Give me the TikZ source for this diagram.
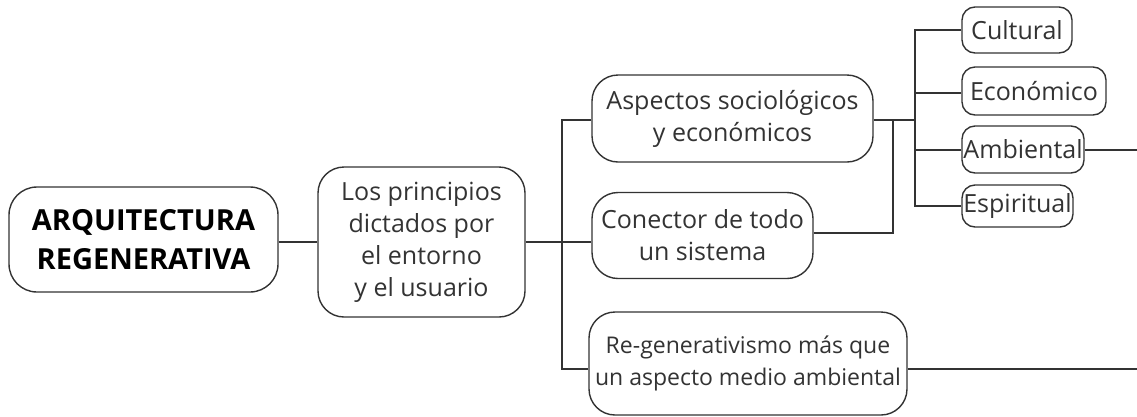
\documentclass[tikz,border=0pt]{standalone}
\usepackage{fontspec}
\setmainfont{Open Sans}
\usepackage{xcolor}
\usetikzlibrary{positioning}
\definecolor{ink}{HTML}{333333}

\begin{document}
\begin{tikzpicture}[x=1pt, y=-1pt,
      box/.style={draw=ink, line width=1.4pt, fill=white, rounded corners=26pt,
                  align=center, text=ink, inner sep=0pt,
                  font=\fontsize{25}{32}\selectfont},
      leaf/.style={box, rounded corners=13pt},
      link/.style={draw=ink, line width=1.4pt}
    ]
      \useasboundingbox (0,0) rectangle (1137,416);
      \node[box, minimum width=269pt, minimum height=105pt, rounded corners=28pt,
            font=\fontsize{29}{39}\selectfont\bfseries, text=black] (root) at (143.5,239.5)
            {ARQUITECTURA\\REGENERATIVA};
      \node[box, minimum width=207pt, minimum height=150pt] (prin) at (421.5,242)
            {Los principios\\dictados por\\el entorno\\y el usuario};
      \node[box, minimum width=281pt, minimum height=87pt] (asp) at (732.5,118.5)
            {Aspectos sociológicos\\y económicos};
      \node[box, minimum width=221pt, minimum height=86pt] (con) at (702.5,235.5)
            {Conector de todo\\un sistema};
      \node[box, minimum width=318pt, minimum height=103pt,
            font=\fontsize{23}{32}\selectfont] (regen) at (748,363.5)
            {Re-generativismo más que\\un aspecto medio ambiental};
      \node[leaf, minimum width=110pt, minimum height=46pt] (cult) at (1017,30) {Cultural};
      \node[leaf, minimum width=144pt, minimum height=48pt] (econ) at (1034,91) {Económico};
      \node[leaf, minimum width=122pt, minimum height=47pt] (amb) at (1023,149.5) {Ambiental};
      \node[leaf, minimum width=111pt, minimum height=42pt] (esp) at (1017.5,206) {Espiritual};
      \coordinate (trunk) at (562,242);
      \coordinate (join) at (893,120);
      \coordinate (fork) at (915,120);
      \coordinate (ambend) at (1137,150);
      \coordinate (regenend) at (1137,369);
      \draw[link] (root.east |- trunk) -- (prin.west |- trunk);
      \draw[link] (prin.east |- trunk) -- (con.west |- trunk);
      \draw[link] (asp.west |- join) -| (trunk) |- (regen.west |- regenend);
      \draw[link] (asp.east |- join) -- (fork);
      \draw[link] (con.east |- 0,233) -| (join);
      \draw[link] (cult.west) -| (fork) |- (esp.west);
      \draw[link] (econ.west |- 0,93) -- (fork |- 0,93);
      \draw[link] (amb.west |- ambend) -- (fork |- ambend);
      \draw[link] (amb.east |- ambend) -- (ambend);
      \draw[link] (regen.east |- regenend) -- (regenend);
    \end{tikzpicture}
\end{document}
